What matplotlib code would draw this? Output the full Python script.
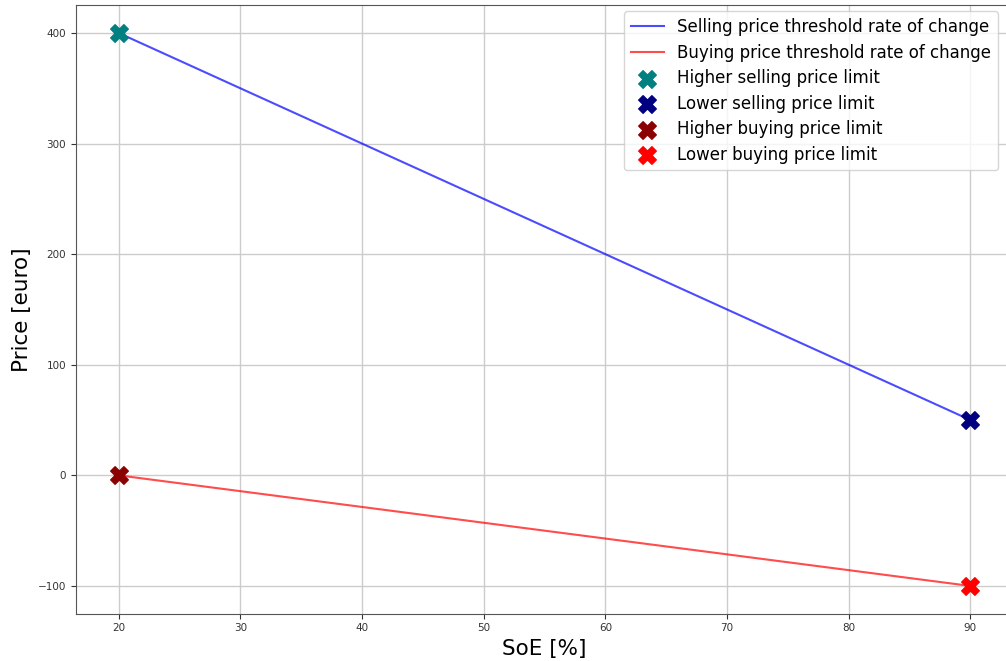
import matplotlib
matplotlib.use('Agg')
import matplotlib.pyplot as plt

# SoE [%] endpoints and price thresholds
soe = [20, 90]
selling_price = [400, 50]
buying_price = [0, -100]

fig = plt.figure(figsize=(10.06, 6.61), dpi=100)
# axes run a bit past the right edge, as in the cropped reference
ax = fig.add_axes([76 / 1006, 47.4 / 661, (1013 - 76) / 1006, (613.6 - 5.3) / 661])

ax.plot(soe, selling_price, color='blue', alpha=0.7, lw=1.5,
        label='Selling price threshold rate of change')
ax.plot(soe, buying_price, color='red', alpha=0.7, lw=1.5,
        label='Buying price threshold rate of change')
ax.scatter(soe[0], selling_price[0], marker='X', s=160, color='teal',
           label='Higher selling price limit', zorder=3)
ax.scatter(soe[1], selling_price[1], marker='X', s=160, color='navy',
           label='Lower selling price limit', zorder=3)
ax.scatter(soe[0], buying_price[0], marker='X', s=160, color='darkred',
           label='Higher buying price limit', zorder=3)
ax.scatter(soe[1], buying_price[1], marker='X', s=160, color='red',
           label='Lower buying price limit', zorder=3)

ax.set_xlim(16.5, 93.5)
ax.set_ylim(-125, 425)
ax.grid(True, color='#cccccc', lw=1)
ax.tick_params(labelsize=7.5, colors='#333333')
for s in ax.spines.values():
    s.set_color('#555555')
ax.spines['right'].set_visible(False)

ax.set_xlabel('SoE [%]', fontsize=15.5)
ax.set_ylabel('Price [euro]', fontsize=15.5)
ax.legend(loc='upper left', fontsize=12, bbox_to_anchor=(0.585, 0.99),
          borderaxespad=0, labelspacing=0.45)

fig.savefig('out.png', dpi=100)
